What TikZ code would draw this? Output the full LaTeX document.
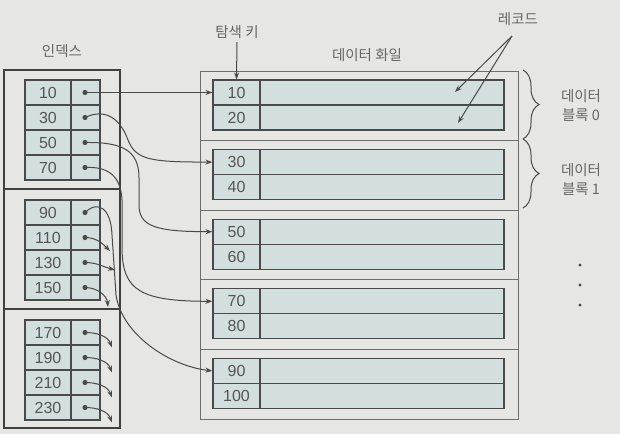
\documentclass[tikz,border=0pt]{standalone}
\usepackage{fontspec}
\setmainfont{Liberation Sans}
\newfontfamily\kr{Noto Sans CJK KR}
\usetikzlibrary{arrows.meta, calc, decorations.pathreplacing}
\definecolor{bgc}{HTML}{E6E6E4}
\definecolor{cellc}{HTML}{D3DEDF}
\definecolor{linec}{HTML}{4A4A4A}
\definecolor{txtc}{HTML}{555555}
\definecolor{lblc}{HTML}{666666}

\begin{document}
\begin{tikzpicture}[x=1pt, y=-1pt,
  cell/.style={draw=linec, fill=cellc, line width=1.1pt, minimum height=25pt, inner sep=0pt, text=txtc, font=\fontsize{16}{16}\selectfont},
  iblk/.style={draw=black!75, line width=1.8pt},
  dblk/.style={draw=linec!80, line width=1pt},
  ptr/.style={draw=linec, line width=1pt, -{Stealth[length=7pt, width=5pt]}},
  lbl/.style={text=lblc, font=\kr\fontsize{14.5}{19}\selectfont, align=center}]
  % Background and page size
  \fill[bgc] (0,0) rectangle (620,434);
  \useasboundingbox (0,0) rectangle (620,434);

  % Index: three blocks of four entries
  \foreach \b in {0,1,2}
    \draw[iblk] (4,{70+119.3*\b}) rectangle (120,{189.3+119.3*\b});
  \foreach \k [count=\n from 0] in {10,30,50,70,90,110,130,150,170,190,210,230} {
    \pgfmathtruncatemacro\b{\n/4}
    \pgfmathsetmacro\yy{92.5+120*\b+25*(\n-4*\b)}
    \node[cell, minimum width=46pt] (ik\n) at (48,\yy) {\k};
    \node[cell, minimum width=29pt] (ip\n) at (85.5,\yy) {};
    \coordinate (p\n) at (85,\yy);
    \fill[linec] (p\n) circle (2.6pt);
  }

  % Data file: five blocks of two records
  \foreach \b in {0,...,4}
    \draw[dblk] (200,{71+69.6*\b}) rectangle (518,{140.6+69.6*\b});
  \foreach \k [count=\n from 0] in {10,20,...,100} {
    \pgfmathtruncatemacro\b{\n/2}
    \pgfmathsetmacro\yy{92.5+69.6*\b+25*(\n-2*\b)}
    \node[cell, minimum width=47pt] (dk\n) at (236.5,\yy) {\k};
    \node[cell, minimum width=244pt] (dd\n) at (382,\yy) {};
  }

  % Labels
  \node[lbl] (idx) at (62,51) {인덱스};
  \node[lbl] (skey) at (237,32) {탐색 키};
  \node[lbl] (dfile) at (367,55) {데이터 화일};
  \node[lbl] (rec) at (518,19) {레코드};
  \node[lbl] (blk0) at (581,106) {데이터\\블록 0};
  \node[lbl] (blk1) at (581,180) {데이터\\블록 1};

  % Label arrows
  \coordinate (rs) at (512,36);
  \coordinate (r0) at (455,92);
  \coordinate (r1) at (458,123);
  \draw[ptr] (skey.south) -- (dk0.north);
  \draw[ptr] (rs) -- (r0);
  \draw[ptr] (rs) -- (r1);

  % Block braces
  \draw[linec, line width=1pt, decorate, decoration={brace, amplitude=16pt}] (523,70) -- (523,139);
  \draw[linec, line width=1pt, decorate, decoration={brace, amplitude=16pt}] (523,139) -- (523,208);

  % More blocks
  \foreach \yy in {265,285,305}
    \fill[linec] (580,\yy) circle (1.7pt);

  % Index pointers to data blocks
  \draw[ptr] (p0) -- (dk0.west);
  \draw[ptr] (p1) .. controls (105,108) and (120,118) .. (128,140) .. controls (136,160) and (150,162) .. (dk2.west);
  \draw[ptr] (p2) .. controls (122,142) and (139,150) .. (139,178) -- (139,205) .. controls (139,226) and (155,231.7) .. (dk4.west);
  \draw[ptr] (p3) .. controls (110,166) and (121,178) .. (122,200) -- (122,250) .. controls (123,290) and (140,301.3) .. (dk6.west);
  \draw[ptr] (p4) .. controls (98,200) and (111,208) .. (112,235) -- (116,295) .. controls (122,335) and (170,366) .. (dk8.west);

  % Pointers to further blocks
  \coordinate (e5) at (110,251);
  \coordinate (e6) at (115,270);
  \coordinate (e7) at (108,307);
  \draw[ptr] (p5) to[out=0, in=135] (e5);
  \draw[ptr] (p6) to[out=0, in=165] (e6);
  \draw[ptr] (p7) to[out=0, in=95] (e7);
  \foreach \n in {8,...,11} {
    \coordinate (e\n) at ($(p\n)+(27,15)$);
    \draw[ptr] (p\n) to[out=0, in=110] (e\n);
  }
\end{tikzpicture}
\end{document}
